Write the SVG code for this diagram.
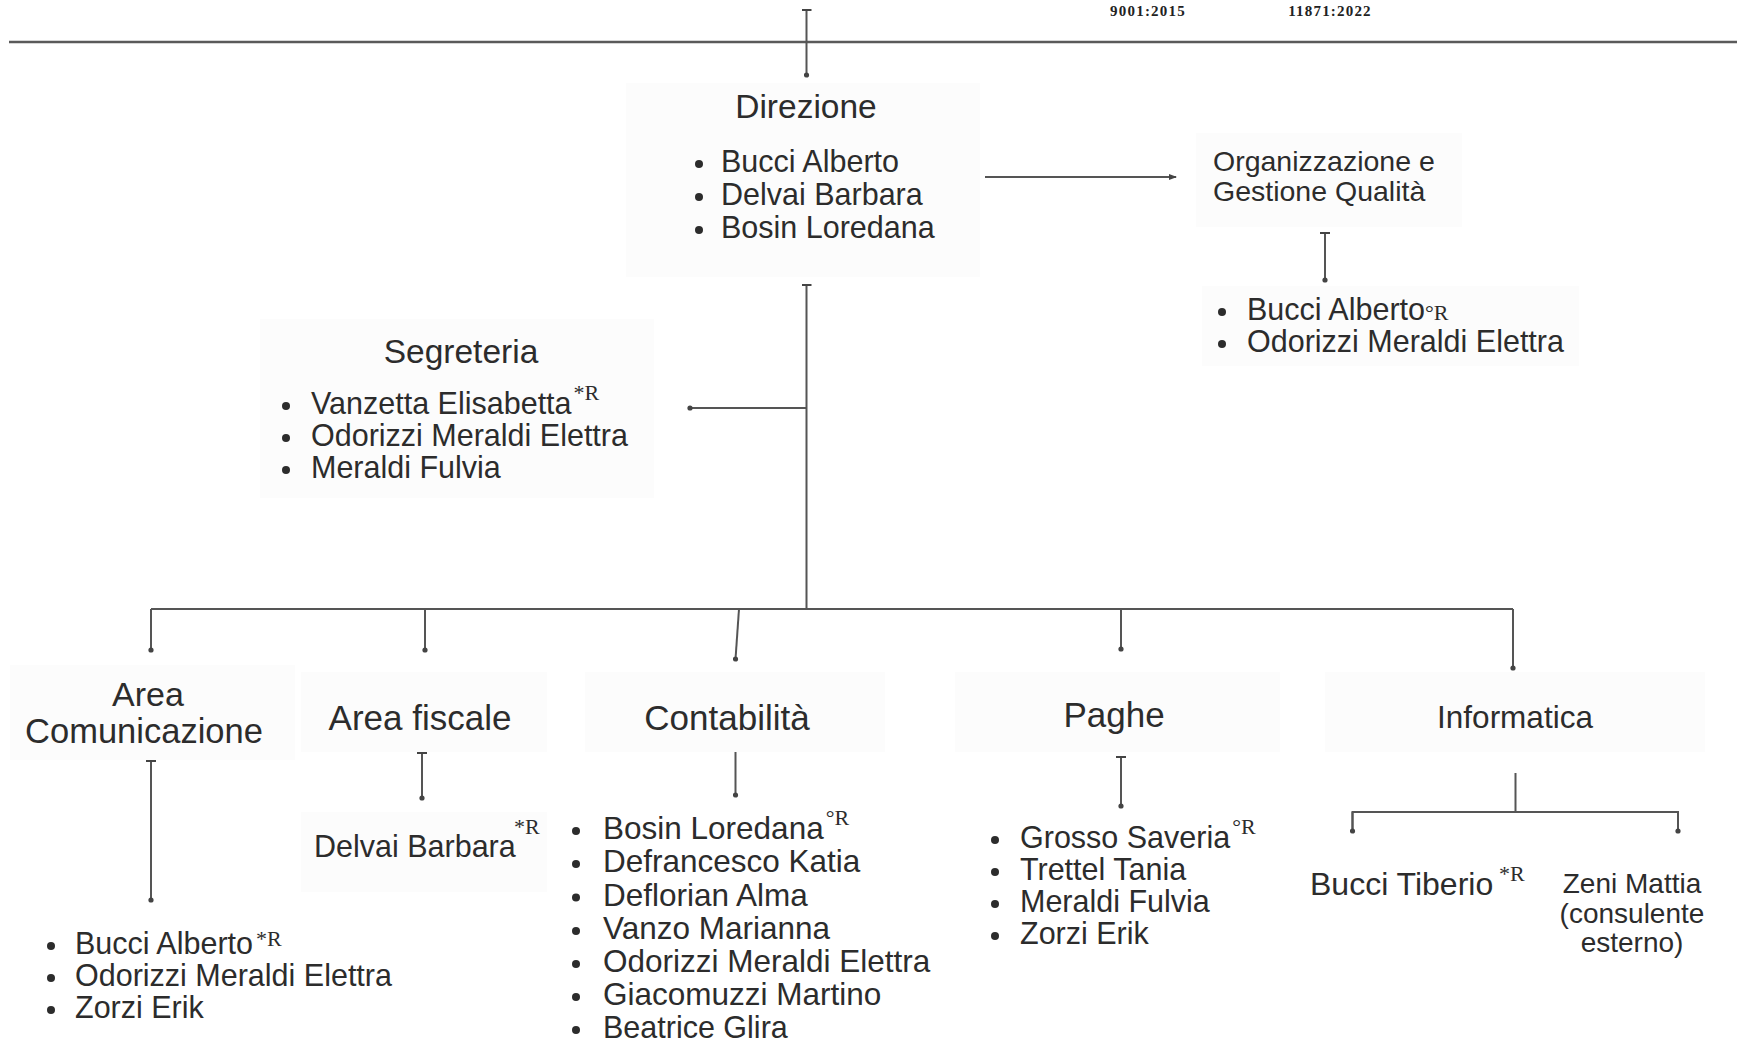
<svg xmlns="http://www.w3.org/2000/svg" width="1737" height="1045" viewBox="0 0 1737 1045">
  <defs>
    <style>
      .t { font-family: "Liberation Sans", Arial, sans-serif; fill: #2c2c2c; }
      .h1 { font-size: 33.5px; }
      .h2 { font-size: 35px; }
      .h3 { font-size: 28.5px; }
      .b { font-size: 30.5px; }
      .z { font-size: 28px; }
      .sup { font-family: "Liberation Serif", "Times New Roman", serif; font-size: 22px; fill: #2c2c2c; }
      .iso { font-family: "Liberation Serif", "Times New Roman", serif; font-weight: bold; font-size: 15px; fill: #222; letter-spacing: 1.2px; }
      .box { fill: #fcfcfc; stroke: none; }
      .conn { stroke: #555; stroke-width: 2; fill: none; }
      .dot { fill: #2c2c2c; }
    </style>
    <marker id="end" viewBox="0 0 6 6" refX="3" refY="3" markerWidth="6" markerHeight="6" markerUnits="userSpaceOnUse">
      <circle cx="3" cy="3" r="2.6" fill="#444"/>
    </marker>
    <marker id="tick" viewBox="0 0 4 10" refX="2" refY="5" markerWidth="4" markerHeight="10" orient="auto" markerUnits="userSpaceOnUse">
      <line x1="2" y1="0" x2="2" y2="10" stroke="#444" stroke-width="2"/>
    </marker>
    <marker id="arrow" viewBox="0 0 8 8" refX="7" refY="4" markerWidth="8" markerHeight="8" orient="auto" markerUnits="userSpaceOnUse">
      <path d="M0,1 L8,4 L0,7 z" fill="#444"/>
    </marker>
  </defs>

  <rect x="0" y="0" width="1737" height="1045" fill="#ffffff"/>

  <!-- header fragments -->
  <g id="header">
    <text class="iso" x="1148" y="16" text-anchor="middle">9001:2015</text>
    <text class="iso" x="1330" y="16" text-anchor="middle">11871:2022</text>
    <line x1="9" y1="42" x2="1737" y2="42" stroke="#5a5a5a" stroke-width="2.5"/>
  </g>

  <!-- connectors -->
  <g id="connectors">
    <line class="conn" x1="806.5" y1="10" x2="806.5" y2="75" marker-start="url(#tick)" marker-end="url(#end)"/>
    <line class="conn" x1="985" y1="177" x2="1176" y2="177" marker-end="url(#arrow)"/>
    <line class="conn" x1="1325" y1="233" x2="1325" y2="280" marker-start="url(#tick)" marker-end="url(#end)"/>
    <line class="conn" x1="806.5" y1="285" x2="806.5" y2="609" marker-start="url(#tick)"/>
    <line class="conn" x1="806.5" y1="408" x2="690" y2="408" marker-end="url(#end)"/>
    <line class="conn" x1="151" y1="609" x2="1513" y2="609"/>
    <line class="conn" x1="151" y1="609" x2="151" y2="650" marker-end="url(#end)"/>
    <line class="conn" x1="425" y1="609" x2="425" y2="650" marker-end="url(#end)"/>
    <line class="conn" x1="739" y1="609" x2="735.5" y2="659" marker-end="url(#end)"/>
    <line class="conn" x1="1121" y1="609" x2="1121" y2="649" marker-end="url(#end)"/>
    <line class="conn" x1="1513" y1="609" x2="1513" y2="668" marker-end="url(#end)"/>
    <line class="conn" x1="151" y1="761" x2="151" y2="900" marker-start="url(#tick)" marker-end="url(#end)"/>
    <line class="conn" x1="422" y1="753" x2="422" y2="798" marker-start="url(#tick)" marker-end="url(#end)"/>
    <line class="conn" x1="735.5" y1="751" x2="735.5" y2="795" marker-start="url(#tick)" marker-end="url(#end)"/>
    <line class="conn" x1="1121" y1="757" x2="1121" y2="806" marker-start="url(#tick)" marker-end="url(#end)"/>
    <line class="conn" x1="1515.5" y1="773" x2="1515.5" y2="812"/>
    <polyline class="conn" points="1352.5,831 1352.5,812 1678,812 1678,831" marker-end="url(#end)"/>
    <line class="conn" x1="1352.5" y1="812" x2="1352.5" y2="831" marker-end="url(#end)"/>
  </g>

  <!-- Direzione -->
  <g id="direzione">
    <rect class="box" x="626" y="83" width="354" height="194"/>
    <text class="t h1" x="806" y="118" text-anchor="middle">Direzione</text>
    <circle class="dot" cx="699" cy="164" r="4"/>
    <circle class="dot" cx="699" cy="197" r="4"/>
    <circle class="dot" cx="699" cy="230" r="4"/>
    <text class="t b" x="721" y="172">Bucci Alberto</text>
    <text class="t b" x="721" y="205">Delvai Barbara</text>
    <text class="t b" x="721" y="238">Bosin Loredana</text>
  </g>

  <!-- Organizzazione e Gestione Qualità -->
  <g id="organizzazione">
    <rect class="box" x="1196" y="133" width="266" height="94"/>
    <text class="t h3" x="1213" y="171">Organizzazione e</text>
    <text class="t h3" x="1213" y="201">Gestione Qualità</text>
  </g>
  <g id="organizzazione-staff">
    <rect class="box" x="1202" y="286" width="377" height="80"/>
    <circle class="dot" cx="1222" cy="312" r="4"/>
    <circle class="dot" cx="1222" cy="344" r="4"/>
    <text class="t b" x="1247" y="320">Bucci Alberto<tspan class="sup" font-size="24">°R</tspan></text>
    <text class="t b" x="1247" y="352">Odorizzi Meraldi Elettra</text>
  </g>

  <!-- Segreteria -->
  <g id="segreteria">
    <rect class="box" x="260" y="319" width="394" height="179"/>
    <text class="t h1" x="461" y="363" text-anchor="middle">Segreteria</text>
    <circle class="dot" cx="286" cy="406" r="4"/>
    <circle class="dot" cx="286" cy="438" r="4"/>
    <circle class="dot" cx="286" cy="470" r="4"/>
    <text class="t b" x="311" y="414">Vanzetta Elisabetta<tspan class="sup" dx="2" dy="-14">*R</tspan></text>
    <text class="t b" x="311" y="446">Odorizzi Meraldi Elettra</text>
    <text class="t b" x="311" y="478">Meraldi Fulvia</text>
  </g>

  <!-- Area Comunicazione -->
  <g id="area-comunicazione">
    <rect class="box" x="10" y="665" width="285" height="95"/>
    <text class="t h2" x="148" y="706" text-anchor="middle" style="font-size:34px">Area</text>
    <text class="t h2" x="144" y="743" text-anchor="middle" style="font-size:34.5px">Comunicazione</text>
  </g>
  <g id="area-comunicazione-staff">
    <circle class="dot" cx="51" cy="946" r="4"/>
    <circle class="dot" cx="51" cy="978" r="4"/>
    <circle class="dot" cx="51" cy="1010" r="4"/>
    <text class="t b" x="75" y="954">Bucci Alberto<tspan class="sup" dx="3" dy="-8">*R</tspan></text>
    <text class="t b" x="75" y="986">Odorizzi Meraldi Elettra</text>
    <text class="t b" x="75" y="1018">Zorzi Erik</text>
  </g>

  <!-- Area fiscale -->
  <g id="area-fiscale">
    <rect class="box" x="301" y="672" width="246" height="80"/>
    <text class="t h2" x="420" y="730" text-anchor="middle">Area fiscale</text>
  </g>
  <g id="area-fiscale-staff">
    <rect class="box" x="301" y="812" width="246" height="80"/>
    <text class="t b" x="314" y="857">Delvai Barbara</text>
    <text class="sup" x="514" y="834">*R</text>
  </g>

  <!-- Contabilità -->
  <g id="contabilita">
    <rect class="box" x="585" y="672" width="300" height="80"/>
    <text class="t h2" x="727" y="730" text-anchor="middle">Contabilità</text>
  </g>
  <g id="contabilita-staff">
    <circle class="dot" cx="576" cy="831" r="4"/>
    <circle class="dot" cx="576" cy="864" r="4"/>
    <circle class="dot" cx="576" cy="897.5" r="4"/>
    <circle class="dot" cx="576" cy="931" r="4"/>
    <circle class="dot" cx="576" cy="964" r="4"/>
    <circle class="dot" cx="576" cy="997" r="4"/>
    <circle class="dot" cx="576" cy="1030" r="4"/>
    <text class="t b" x="603" y="839" style="font-size:31.5px">Bosin Loredana<tspan class="sup" dx="2" dy="-14">°R</tspan></text>
    <text class="t b" x="603" y="872" style="font-size:31.5px">Defrancesco Katia</text>
    <text class="t b" x="603" y="905.5" style="font-size:31.5px">Deflorian Alma</text>
    <text class="t b" x="603" y="939" style="font-size:31.5px">Vanzo Marianna</text>
    <text class="t b" x="603" y="972" style="font-size:31.5px">Odorizzi Meraldi Elettra</text>
    <text class="t b" x="603" y="1005" style="font-size:31.5px">Giacomuzzi Martino</text>
    <text class="t b" x="603" y="1037.5" style="font-size:30.5px">Beatrice Glira</text>
  </g>

  <!-- Paghe -->
  <g id="paghe">
    <rect class="box" x="955" y="672" width="325" height="80"/>
    <text class="t h2" x="1114" y="727" text-anchor="middle">Paghe</text>
  </g>
  <g id="paghe-staff">
    <circle class="dot" cx="995" cy="840" r="4"/>
    <circle class="dot" cx="995" cy="872" r="4"/>
    <circle class="dot" cx="995" cy="904" r="4"/>
    <circle class="dot" cx="995" cy="936" r="4"/>
    <text class="t b" x="1020" y="848">Grosso Saveria<tspan class="sup" dx="2" dy="-14">°R</tspan></text>
    <text class="t b" x="1020" y="880">Trettel Tania</text>
    <text class="t b" x="1020" y="912">Meraldi Fulvia</text>
    <text class="t b" x="1020" y="944">Zorzi Erik</text>
  </g>

  <!-- Informatica -->
  <g id="informatica">
    <rect class="box" x="1325" y="672" width="380" height="80"/>
    <text class="t b" x="1515" y="728" text-anchor="middle" style="font-size:31.5px">Informatica</text>
  </g>
  <g id="bucci-tiberio">
    <text class="t b" x="1310" y="895" style="font-size:32px">Bucci Tiberio</text>
    <text class="sup" x="1499" y="881">*R</text>
  </g>
  <g id="zeni-mattia">
    <text class="t z" x="1632" y="893" text-anchor="middle">Zeni Mattia</text>
    <text class="t z" x="1632" y="923" text-anchor="middle">(consulente</text>
    <text class="t z" x="1632" y="952" text-anchor="middle">esterno)</text>
  </g>
</svg>
